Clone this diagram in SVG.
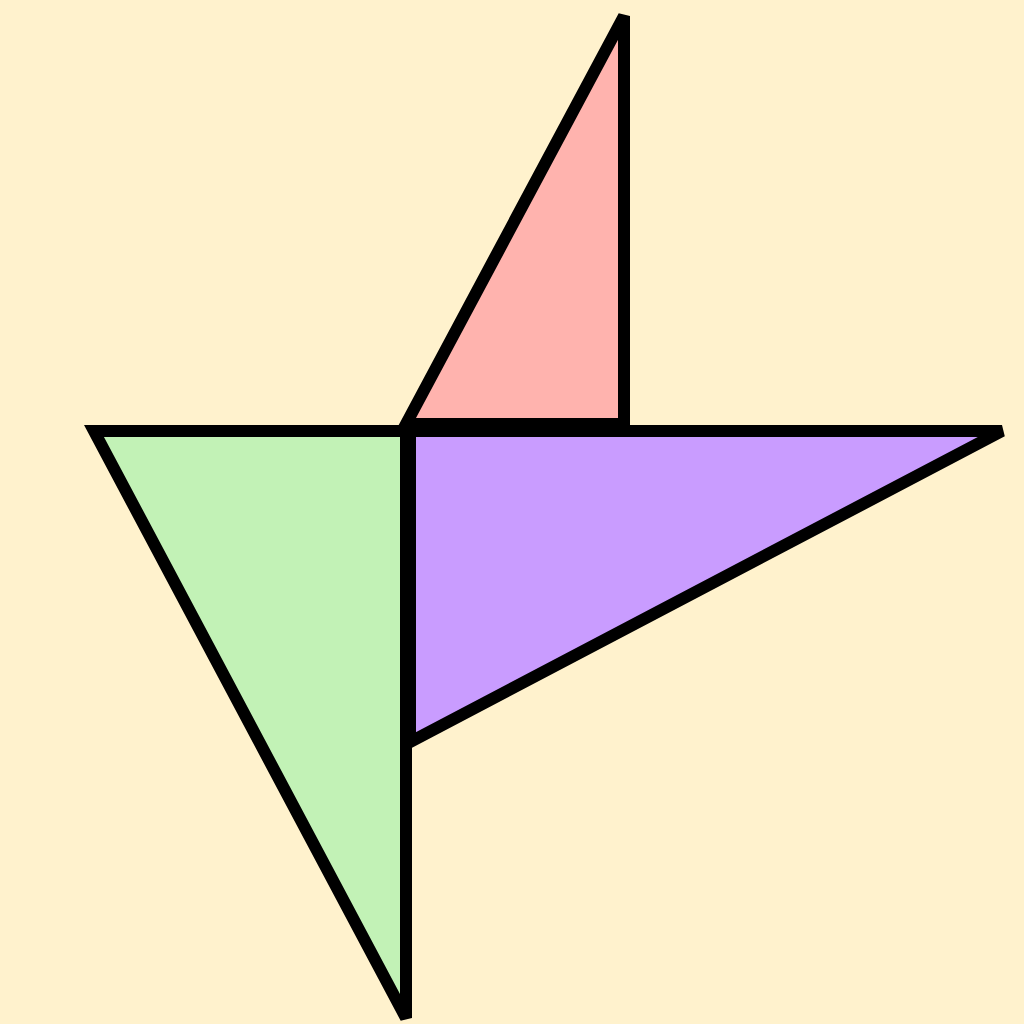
<svg xmlns="http://www.w3.org/2000/svg" width="1024" height="1024" viewBox="0 0 1024 1024">
<style>
.t{stroke:#000;stroke-width:12;stroke-linejoin:miter;stroke-miterlimit:4}
</style>
<rect width="1024" height="1024" fill="#FFF2CD"/>
<g id="pink"><polygon class="t" points="406,424 624,16 624,424" fill="#FFB3AE"/></g>
<g id="green"><polygon class="t" points="94,431 406,431 406,1018" fill="#C2F2B6"/></g>
<g id="purple"><polygon class="t" points="410,431 1002,431 410,742" fill="#C99CFF"/></g>
</svg>
